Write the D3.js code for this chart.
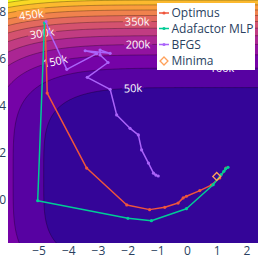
<!DOCTYPE html>
<html>
<head>
<meta charset="utf-8">
<script src="https://cdn.jsdelivr.net/npm/d3@7"></script>
<style>
  body { margin: 0; background: #fff; }
  svg { display: block; font-family: "Open Sans", sans-serif; }
</style>
</head>
<body>
<svg id="chart" width="258" height="258"></svg>
<script>
// contour levels of the loss surface (step 50k)
const levels = [0, 50000, 100000, 150000, 200000, 250000, 300000, 350000, 400000, 450000, 500000, 550000, 600000]

// contour labels: text, level, x position along the line
const labelText = ['450k', '300k', '150k', '350k', '200k', '50k', '400k', '250k', '100k']
const labelLevel = [450000, 300000, 150000, 350000, 200000, 50000, 400000, 250000, 100000]
const labelU = [-5.25, -4.88, -4.44, -1.68, -1.65, -1.82, 1.18, 1.18, 1.18]

// optimizer trajectories
const optimusU = [-4.78, -4.71, -3.38, -2.03, -1.26, -0.75, -0.30, -0.13, -0.02, 0.43, 0.82, 1.10, 1.31]
const optimusV = [7.57, 4.55, 1.36, -0.21, -0.41, -0.31, -0.13, 0.09, 0.16, 0.40, 0.63, 0.94, 1.36]

const adafactorU = [-4.80, -5.03, -1.99, -1.20, -0.02, 0.88, 1.15, 1.24, 1.38, 1.30]
const adafactorV = [7.54, -0.03, -0.78, -0.88, -0.37, 0.65, 1.08, 1.22, 1.39, 1.33]

const bfgsU = [-4.75, -4.64, -4.05, -3.04, -3.43, -2.59, -2.93, -2.93, -2.66, -3.36, -2.59, -2.37, -1.92, -1.64, -1.53, -1.30, -1.13, -1.05, -0.97]
const bfgsV = [7.59, 7.16, 5.56, 6.23, 6.35, 6.24, 6.38, 6.17, 5.85, 5.22, 4.71, 3.62, 3.05, 2.77, 2.13, 1.57, 1.14, 1.06, 1.02]

const minimaU = [1]
const minimaV = [1]

const xTicks = [-5, -4, -3, -2, -1, 0, 1, 2]
const yTicks = [0, 2, 4, 6, 8]

const seriesNames = ['Optimus', 'Adafactor MLP', 'BFGS', 'Minima']
const seriesColors = ['#EF553B', '#00CC96', '#AB63FA', '#FFA15A']

// plotly plasma
const plasmaStops = ['#0d0887', '#46039f', '#7201a8', '#9c179e', '#bd3786', '#d8576b', '#ed7953', '#fb9f3a', '#fdca26', '#f0f921']

// the surface: steep in y away from the minimum, softer to the left
function loss(u, v) {
  const a = 27.4 * Math.pow(Math.abs(1 - u), 4.26)
  const b = 475 * Math.pow(Math.abs(v - 1), 3.5)
  const p = 1.15
  return Math.pow(Math.pow(a, p) + Math.pow(b, p), 1 / p)
}

const W = 258, H = 258
const plotL = 8, plotR = 258, plotT = 0, plotB = 243

const svg = d3.select('#chart')
const x = d3.scaleLinear().domain([-6.03, 2.39]).range([plotL, plotR])
const y = d3.scaleLinear().domain([-1.83, 8.51]).range([plotB, plotT])
const plasma = d3.scaleLinear().domain(plasmaStops.map((d, i) => i / (plasmaStops.length - 1))).range(plasmaStops)

const defs = svg.append('defs')
defs.append('clipPath').attr('id', 'plotclip')
  .append('rect').attr('x', plotL).attr('y', plotT).attr('width', plotR - plotL).attr('height', plotB - plotT)

// grid
const n = 240, m = 240, u0 = -6.6, u1 = 2.9, v0 = -2.4, v1 = 9.1
const du = (u1 - u0) / n, dv = (v1 - v0) / m
const values = new Float64Array(n * m)
for (let j = 0; j < m; j++) {
  for (let i = 0; i < n; i++) {
    values[i + j * n] = loss(u0 + (i + 0.5) * du, v0 + (j + 0.5) * dv)
  }
}
const contours = d3.contours().size([n, m]).thresholds(levels)(values)
const path = d3.geoPath(d3.geoTransform({
  point: function(gx, gy) { this.stream.point(x(u0 + gx * du), y(v0 + gy * dv)) }
}))

const plot = svg.append('g').attr('clip-path', 'url(#plotclip)')

plot.append('g').selectAll('path')
  .data(contours)
  .enter().append('path')
  .attr('d', path)
  .attr('fill', (d, i) => plasma((i + 1) / levels.length))
  .attr('fill-rule', 'evenodd')

// label placement on the lines
function solveV(level, u) {
  let lo = 1, hi = 10
  for (let k = 0; k < 60; k++) {
    const mid = (lo + hi) / 2
    if (loss(u, mid) < level) lo = mid; else hi = mid
  }
  return (lo + hi) / 2
}
const labels = labelText.map((t, i) => {
  const u = labelU[i], v = solveV(labelLevel[i], u), h = 1e-3
  const zu = (loss(u + h, v) - loss(u - h, v)) / (2 * h)
  const zv = (loss(u, v + h) - loss(u, v - h)) / (2 * h)
  const sx = x(1) - x(0), sy = y(0) - y(1)
  let ang = Math.atan2(zu * sy, zv * sx) * 180 / Math.PI
  if (ang > 90) ang -= 180
  if (ang < -90) ang += 180
  return { t: t, px: x(u), py: y(v), ang: ang }
})

const mask = defs.append('mask').attr('id', 'labelmask')
mask.append('rect').attr('x', 0).attr('y', 0).attr('width', W).attr('height', H).attr('fill', 'white')
mask.selectAll('rect.hole')
  .data(labels)
  .enter().append('rect')
  .attr('class', 'hole')
  .attr('x', d => -d.t.length * 3.3 - 1)
  .attr('y', -5.5)
  .attr('width', d => d.t.length * 6.6 + 2)
  .attr('height', 11)
  .attr('fill', 'black')
  .attr('transform', d => `translate(${d.px},${d.py}) rotate(${d.ang})`)

plot.append('g').attr('mask', 'url(#labelmask)').selectAll('path')
  .data(contours.slice(1))
  .enter().append('path')
  .attr('d', path)
  .attr('fill', 'none')
  .attr('stroke', 'rgba(0,0,0,0.5)')
  .attr('stroke-width', 0.6)

plot.append('g').selectAll('text')
  .data(labels)
  .enter().append('text')
  .attr('transform', d => `translate(${d.px},${d.py}) rotate(${d.ang})`)
  .attr('text-anchor', 'middle')
  .attr('dy', '0.35em')
  .style('font-size', '11px')
  .attr('fill', 'white')
  .text(d => d.t)

// trajectories
const line = d3.line().x(d => x(d[0])).y(d => y(d[1]))
const tracks = [d3.zip(optimusU, optimusV), d3.zip(adafactorU, adafactorV), d3.zip(bfgsU, bfgsV)]
tracks.forEach((pts, k) => {
  const g = plot.append('g')
  g.append('path').attr('d', line(pts)).attr('fill', 'none')
    .attr('stroke', seriesColors[k]).attr('stroke-width', 1.5).attr('stroke-linejoin', 'round')
  g.selectAll('circle').data(pts).enter().append('circle')
    .attr('cx', d => x(d[0])).attr('cy', d => y(d[1])).attr('r', 1.6)
    .attr('fill', seriesColors[k])
})
const diamond = d3.symbol().type(d3.symbolDiamond2).size(40)
plot.append('g').selectAll('path')
  .data(d3.zip(minimaU, minimaV))
  .enter().append('path')
  .attr('d', diamond)
  .attr('transform', d => `translate(${x(d[0])},${y(d[1])})`)
  .attr('fill', 'none')
  .attr('stroke', seriesColors[3])
  .attr('stroke-width', 1.3)

// axes
const xAxis = svg.append('g').attr('transform', `translate(0,${plotB})`)
  .call(d3.axisBottom(x).tickValues(xTicks).tickSize(0).tickPadding(3))
xAxis.select('.domain').remove()
xAxis.selectAll('text').style('font-size', '12px').attr('fill', '#2a3f5f').style('font-family', '"Open Sans", sans-serif')

const yAxis = svg.append('g').attr('transform', `translate(${plotL},0)`)
  .call(d3.axisLeft(y).tickValues(yTicks).tickSize(0).tickPadding(2))
yAxis.select('.domain').remove()
yAxis.selectAll('text').style('font-size', '12px').attr('fill', '#2a3f5f').style('font-family', '"Open Sans", sans-serif')

// legend
const legend = svg.append('g')
legend.append('rect').attr('x', 157).attr('y', 3).attr('width', 98).attr('height', 67).attr('fill', 'white')
const rowY = [13, 28.5, 44.5, 61]
seriesNames.forEach((name, i) => {
  const row = legend.append('g').attr('transform', `translate(0,${rowY[i]})`)
  if (i < 3) {
    row.append('line').attr('x1', 159).attr('x2', 169).attr('y1', 0).attr('y2', 0)
      .attr('stroke', seriesColors[i]).attr('stroke-width', 1.5)
    row.append('circle').attr('cx', 164).attr('cy', 0).attr('r', 1.6).attr('fill', seriesColors[i])
  } else {
    row.append('path').attr('d', diamond).attr('transform', 'translate(164,0)')
      .attr('fill', 'none').attr('stroke', seriesColors[i]).attr('stroke-width', 1.3)
  }
  row.append('text').attr('x', 171.5).attr('dy', '0.35em')
    .style('font-size', '12px').attr('fill', '#2a3f5f').text(name)
})
</script>
</body>
</html>
